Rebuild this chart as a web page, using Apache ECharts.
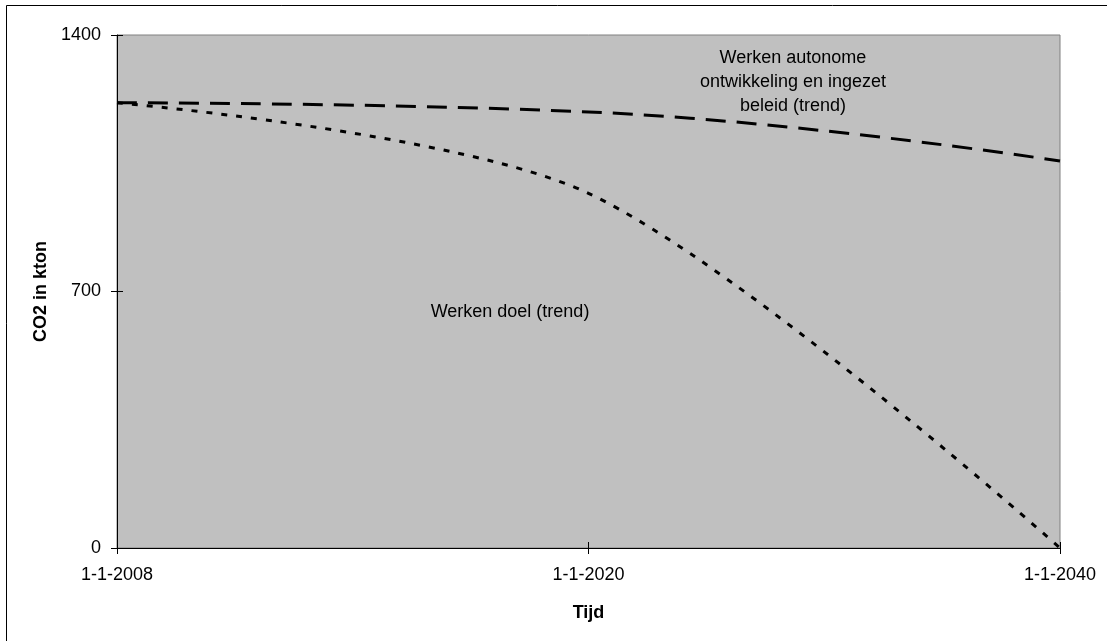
<!DOCTYPE html>
<html lang="nl">
<head>
    <meta charset="UTF-8">
    <script src="https://cdn.jsdelivr.net/npm/echarts@6/dist/echarts.min.js"></script>
    <title>CO2 werken</title>
    <style>
        body { margin: 0; background: #fff; }
    </style>
</head>
<body>
<div id="main" style="width: 1107px;height:641px;"></div>
<script type="text/javascript">
    // categorieen (x-as) en waarden
    var categories = ['1-1-2008', '1-1-2020', '1-1-2040'];
    var autonoomWaarden = [1215, 1190, 1056];   // Werken autonome ontwikkeling en ingezet beleid (trend)
    var doelWaarden = [1215, 968, 0];            // Werken doel (trend)
    var yTicks = [0, 700, 1400];

    var font = 'Liberation Sans, Arial, sans-serif';
    var gridLeft = 117, gridRight = 47;
    var gridWidth = 1107 - gridLeft - gridRight;

    var myChart = echarts.init(document.getElementById('main'));

    var option = {
        animation: false,
        backgroundColor: '#ffffff',
        textStyle: { fontFamily: font },
        grid: {
            left: gridLeft, right: gridRight, top: 35, bottom: 93,
            show: true,
            backgroundColor: '#c0c0c0',
            borderColor: '#808080',
            borderWidth: 1
        },
        xAxis: [
            {
                type: 'category',
                data: categories,
                boundaryGap: false,
                name: 'Tijd',
                nameLocation: 'middle',
                nameGap: 56,
                nameTextStyle: { fontSize: 18, fontWeight: 'bold', color: '#000' },
                axisLine: { lineStyle: { color: '#000', width: 1 } },
                axisTick: { length: 6, lineStyle: { color: '#000' } },
                axisLabel: { fontSize: 18, color: '#000', margin: 18 },
                splitLine: { show: false }
            },
            {
                // binnenste helft van de kruisende streepjes
                type: 'category',
                data: categories,
                boundaryGap: false,
                position: 'bottom',
                axisLine: { show: false },
                axisTick: { inside: true, length: 6, lineStyle: { color: '#000' } },
                axisLabel: { show: false },
                splitLine: { show: false }
            }
        ],
        yAxis: [
            {
                type: 'value',
                min: yTicks[0],
                max: yTicks[yTicks.length - 1],
                interval: 700,
                name: 'CO2 in kton',
                nameLocation: 'middle',
                nameGap: 58,
                nameRotate: 90,
                nameTextStyle: { fontSize: 18, fontWeight: 'bold', color: '#000' },
                axisLine: { show: true, lineStyle: { color: '#000', width: 1 } },
                axisTick: { show: true, length: 6, lineStyle: { color: '#000' } },
                axisLabel: {
                    fontSize: 18, color: '#000', margin: 16,
                    formatter: function (v) { return String(v); }
                },
                splitLine: { show: false }
            },
            {
                // binnenste streepjes van de y-as: rechter as teruggeschoven naar links
                type: 'value',
                min: yTicks[0],
                max: yTicks[yTicks.length - 1],
                interval: 700,
                position: 'right',
                offset: -gridWidth,
                axisLine: { show: false },
                axisTick: { show: true, length: 6, lineStyle: { color: '#000' } },
                axisLabel: { show: false },
                splitLine: { show: false }
            }
        ],
        series: [
            {
                name: 'Werken autonome ontwikkeling en ingezet beleid (trend)',
                type: 'line',
                data: autonoomWaarden,
                smooth: 0.45,
                symbol: 'none',
                lineStyle: { color: '#000', width: 3, type: [20, 11] }
            },
            {
                name: 'Werken doel (trend)',
                type: 'line',
                data: doelWaarden,
                smooth: 0.3,
                symbol: 'none',
                lineStyle: { color: '#000', width: 3, type: [6, 9] }
            }
        ],
        graphic: [
            {
                type: 'rect',
                shape: { x: 6.5, y: 5.5, width: 1200, height: 800 },
                style: { fill: 'none', stroke: '#000', lineWidth: 1 },
                silent: true
            },
            {
                type: 'text',
                x: 793, y: 46,
                style: {
                    text: 'Werken autonome\nontwikkeling en ingezet\nbeleid (trend)',
                    font: '18px ' + font,
                    fill: '#000',
                    align: 'center',
                    lineHeight: 24
                }
            },
            {
                type: 'text',
                x: 510, y: 303,
                style: {
                    text: 'Werken doel (trend)',
                    font: '18px ' + font,
                    fill: '#000',
                    align: 'center'
                }
            }
        ]
    };

    myChart.setOption(option);
</script>
</body>
</html>
